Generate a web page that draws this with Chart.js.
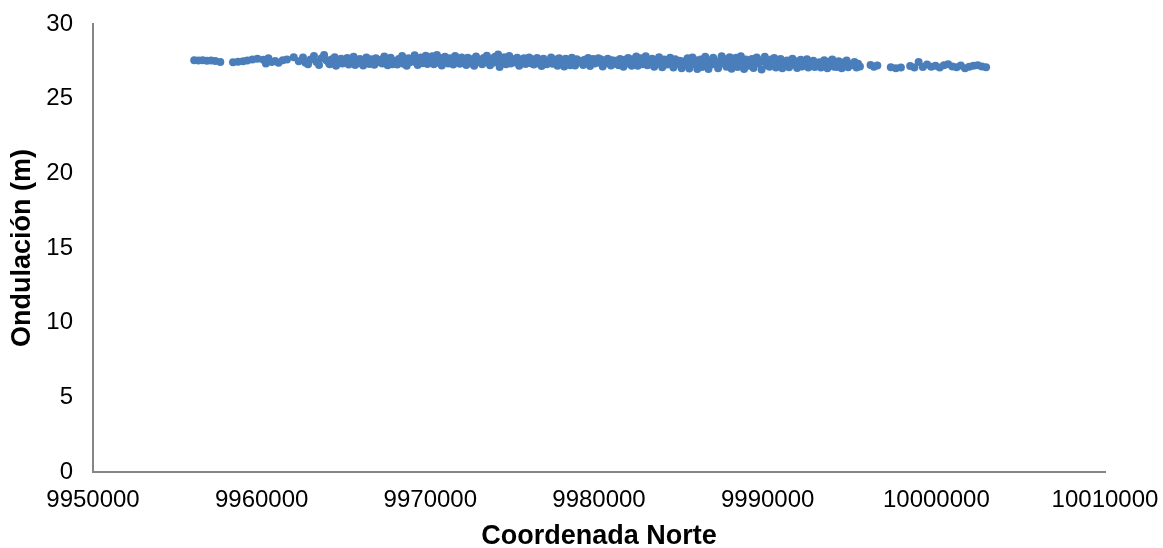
<!DOCTYPE html>
<html>
<head>
<meta charset="utf-8">
<script src="https://cdn.jsdelivr.net/npm/chart.js@4"></script>
<style>
  html, body { margin: 0; padding: 0; background: #fff; }
  #wrap { width: 1163px; height: 548px; }
</style>
</head>
<body>
<div id="wrap"><canvas id="ondulacionChart" width="1163" height="548"></canvas></div>
<script>
// tick values
const xTicks = [9950000, 9960000, 9970000, 9980000, 9990000, 10000000, 10010000];
const yTicks = [0, 5, 10, 15, 20, 25, 30];

// Coordenada Norte (m), read point by point along the band
const norte = [
  9956000, 9956250, 9956500, 9956750, 9957000, 9957250, 9957550,
  9958300, 9958600, 9958900, 9959150, 9959450, 9959750,
  9960100, 9960250, 9960400, 9960600, 9960800, 9961000, 9961250, 9961500,
  9961900, 9962200,
  9962450, 9962600, 9962750, 9962900, 9963100, 9963250, 9963400, 9963550, 9963700, 9963850, 9964000,
  9964040, 9964130, 9964220, 9964330, 9964410, 9964520, 9964600, 9964710, 9964790, 9964900,
  9965070, 9965160, 9965250, 9965350, 9965450, 9965540, 9965640, 9965730, 9965830, 9965940,
  9966020, 9966110, 9966210, 9966300, 9966390, 9966490, 9966580, 9966680, 9966770, 9966870,
  9967060, 9967150, 9967270, 9967360, 9967470, 9967560, 9967650, 9967750, 9967860, 9967960,
  9968040, 9968130, 9968220, 9968330, 9968410, 9968520, 9968600, 9968710, 9968790, 9968900,
  9969070, 9969160, 9969250, 9969350, 9969450, 9969540, 9969640, 9969730, 9969830, 9969940,
  9970020, 9970110, 9970210, 9970300, 9970390, 9970490, 9970580, 9970680, 9970770, 9970870,
  9971060, 9971150, 9971270, 9971360, 9971470, 9971560, 9971650, 9971750, 9971860, 9971960,
  9972040, 9972130, 9972220, 9972330, 9972410, 9972520, 9972600, 9972710, 9972790, 9972900,
  9973070, 9973160, 9973250, 9973350, 9973450, 9973540, 9973640, 9973730, 9973830, 9973940,
  9974020, 9974110, 9974210, 9974300, 9974390, 9974490, 9974580, 9974680, 9974770, 9974870,
  9975060, 9975150, 9975270, 9975360, 9975470, 9975560, 9975650, 9975750, 9975860, 9975960,
  9976040, 9976130, 9976220, 9976330, 9976410, 9976520, 9976600, 9976710, 9976790, 9976900,
  9977070, 9977160, 9977250, 9977350, 9977450, 9977540, 9977640, 9977730, 9977830, 9977940,
  9978020, 9978110, 9978210, 9978300, 9978390, 9978490, 9978580, 9978680, 9978770, 9978870,
  9979060, 9979150, 9979270, 9979360, 9979470, 9979560, 9979650, 9979750, 9979860, 9979960,
  9980040, 9980130, 9980220, 9980330, 9980410, 9980520, 9980600, 9980710, 9980790, 9980900,
  9981070, 9981160, 9981250, 9981350, 9981450, 9981540, 9981640, 9981730, 9981830, 9981940,
  9982020, 9982110, 9982210, 9982300, 9982390, 9982490, 9982580, 9982680, 9982770, 9982870,
  9983060, 9983150, 9983270, 9983360, 9983470, 9983560, 9983650, 9983750, 9983860, 9983960,
  9984040, 9984130, 9984220, 9984330, 9984410, 9984520, 9984600, 9984710, 9984790, 9984900,
  9985070, 9985160, 9985250, 9985350, 9985450, 9985540, 9985640, 9985730, 9985830, 9985940,
  9986020, 9986110, 9986210, 9986300, 9986390, 9986490, 9986580, 9986680, 9986770, 9986870,
  9987060, 9987150, 9987270, 9987360, 9987470, 9987560, 9987650, 9987750, 9987860, 9987960,
  9988040, 9988130, 9988220, 9988330, 9988410, 9988520, 9988600, 9988710, 9988790, 9988900,
  9989070, 9989160, 9989250, 9989350, 9989450, 9989540, 9989640, 9989730, 9989830, 9989940,
  9990020, 9990110, 9990210, 9990300, 9990390, 9990490, 9990580, 9990680, 9990770, 9990870,
  9991060, 9991150, 9991270, 9991360, 9991470, 9991560, 9991650, 9991750, 9991860, 9991960,
  9992040, 9992130, 9992220, 9992330, 9992410, 9992520, 9992600, 9992710, 9992790, 9992900,
  9993070, 9993160, 9993250, 9993350, 9993450, 9993540, 9993640, 9993730, 9993830, 9993940,
  9994020, 9994110, 9994210, 9994300, 9994390, 9994490, 9994580, 9994680, 9994770, 9994870,
  9995060, 9995150, 9995270, 9995360, 9995470,
  9996100, 9996300, 9996500,
  9997300, 9997600, 9997900,
  9998450, 9998700, 9998950, 9999200, 9999450, 9999700, 9999950,
  10000200, 10000450, 10000700, 10000950, 10001200, 10001450, 10001700, 10001950,
  10002200, 10002450, 10002700, 10002950
];

// Ondulación (m), same order as norte
const ondulacion = [
  27.58, 27.55, 27.57, 27.54, 27.56, 27.52, 27.45,
  27.44, 27.47, 27.50, 27.55, 27.62, 27.68,
  27.60, 27.35, 27.70, 27.45, 27.52, 27.40, 27.58, 27.62,
  27.78, 27.50,
  27.75, 27.40, 27.30, 27.62, 27.85, 27.45, 27.25, 27.70, 27.92, 27.55, 27.35,
  27.30, 27.62, 27.45, 27.78, 27.20, 27.52, 27.40, 27.68, 27.35, 27.55,
  27.72, 27.28, 27.50, 27.42, 27.80, 27.25, 27.60, 27.38, 27.66, 27.48,
  27.22, 27.58, 27.75, 27.40, 27.32, 27.64, 27.50, 27.27, 27.70, 27.44,
  27.60, 27.36, 27.82, 27.46, 27.24, 27.56, 27.74, 27.30, 27.52, 27.40,
  27.28, 27.66, 27.48, 27.85, 27.34, 27.58, 27.20, 27.70, 27.44, 27.62,
  27.90, 27.42, 27.26, 27.60, 27.76, 27.38, 27.54, 27.88, 27.32, 27.68,
  27.46, 27.84, 27.30, 27.62, 27.92, 27.40, 27.72, 27.22, 27.56, 27.80,
  27.36, 27.70, 27.52, 27.28, 27.86, 27.48, 27.64, 27.34, 27.76, 27.44,
  27.58, 27.26, 27.74, 27.50, 27.38, 27.66, 27.20, 27.82, 27.46, 27.60,
  27.30, 27.72, 27.44, 27.88, 27.56, 27.24, 27.68, 27.40, 27.80, 27.52,
  27.95, 27.12, 27.62, 27.45, 27.78, 27.30, 27.58, 27.85, 27.36, 27.66,
  27.42, 27.74, 27.20, 27.60, 27.48, 27.70, 27.32, 27.54, 27.76, 27.38,
  27.64, 27.28, 27.50, 27.72, 27.36, 27.58, 27.18, 27.68, 27.44, 27.30,
  27.52, 27.76, 27.34, 27.46, 27.62, 27.20, 27.70, 27.40, 27.56, 27.16,
  27.68, 27.38, 27.58, 27.24, 27.74, 27.48, 27.22, 27.64, 27.42, 27.54,
  27.26, 27.60, 27.44, 27.72, 27.18, 27.52, 27.66, 27.36, 27.48, 27.70,
  27.40, 27.62, 27.16, 27.54, 27.38, 27.68, 27.46, 27.22, 27.58, 27.34,
  27.56, 27.24, 27.66, 27.42, 27.14, 27.60, 27.36, 27.72, 27.48, 27.20,
  27.64, 27.40, 27.82, 27.20, 27.52, 27.70, 27.30, 27.46, 27.84, 27.24,
  27.44, 27.68, 27.14, 27.58, 27.36, 27.78, 27.50, 27.10, 27.62, 27.40,
  27.28, 27.56, 27.74, 27.38, 27.08, 27.64, 27.46, 27.32, 27.54, 27.04,
  27.50, 27.26, 27.70, 27.02, 27.44, 27.76, 27.30, 27.58, 26.98, 27.40,
  27.62, 27.12, 27.48, 27.80, 27.34, 26.98, 27.56, 27.28, 27.74, 27.42,
  27.04, 27.52, 27.84, 27.36, 27.64, 27.14, 27.46, 27.78, 27.00, 27.58,
  27.40, 27.74, 27.12, 27.54, 27.84, 27.32, 26.98, 27.62, 27.44, 27.20,
  27.66, 27.06, 27.48, 27.76, 27.36, 27.58, 26.96, 27.50, 27.80, 27.24,
  27.44, 27.14, 27.62, 27.38, 27.72, 27.08, 27.54, 27.34, 27.66, 27.04,
  27.32, 27.56, 27.10, 27.46, 27.68, 27.28, 27.50, 27.06, 27.40, 27.60,
  27.16, 27.48, 27.36, 27.64, 27.08, 27.42, 27.30, 27.54, 27.12, 27.38,
  27.44, 27.08, 27.34, 27.58, 27.22, 27.04, 27.48, 27.30, 27.62, 27.14,
  27.36, 27.12, 27.50, 27.28, 27.04, 27.42, 27.20, 27.56, 27.10, 27.32,
  27.26, 27.46, 27.08, 27.34, 27.16,
  27.26, 27.14, 27.22,
  27.10, 27.04, 27.08,
  27.18, 27.08, 27.46, 27.12, 27.28, 27.14, 27.20,
  27.08, 27.24, 27.30, 27.16, 27.10, 27.22, 27.04, 27.14,
  27.20, 27.24, 27.16, 27.10
];

const points = norte.map((n, i) => ({ x: n, y: ondulacion[i] }));

const axisColor = '#868686';
const tickFont = { family: '"Liberation Sans", Arial, sans-serif', size: 24 };
const titleFont = { family: '"Liberation Sans", Arial, sans-serif', size: 27, weight: 'bold' };

new Chart(document.getElementById('ondulacionChart'), {
  type: 'scatter',
  data: {
    datasets: [{
      label: 'Ondulación',
      data: points,
      backgroundColor: '#4A7EBB',
      borderColor: '#4A7EBB',
      borderWidth: 0,
      pointRadius: 4,
      pointHoverRadius: 4
    }]
  },
  options: {
    responsive: false,
    animation: false,
    layout: { padding: { top: 24, right: 58, bottom: 0, left: 0 } },
    plugins: {
      legend: { display: false },
      tooltip: { enabled: false }
    },
    scales: {
      x: {
        type: 'linear',
        min: xTicks[0],
        max: xTicks[xTicks.length - 1],
        afterBuildTicks: scale => { scale.ticks = xTicks.map(v => ({ value: v })); },
        // fixed box so the plot area lands where the original has it
        afterFit: scale => {
          scale.height = 76;
          scale.paddingLeft = 0;
          scale.paddingRight = 0;
        },
        grid: { display: false, drawTicks: false },
        border: { display: true, color: axisColor, width: 2 },
        ticks: { color: '#000', font: tickFont, padding: 14, maxRotation: 0, callback: v => String(v) },
        title: { display: true, text: 'Coordenada Norte', color: '#000', font: titleFont, padding: { top: 0, bottom: -5 } }
      },
      y: {
        min: yTicks[0],
        max: yTicks[yTicks.length - 1],
        afterBuildTicks: scale => { scale.ticks = yTicks.map(v => ({ value: v })); },
        afterFit: scale => {
          scale.width = 93;
          scale.paddingTop = 0;
          scale.paddingBottom = 0;
        },
        grid: { display: false, drawTicks: false },
        border: { display: true, color: axisColor, width: 2 },
        ticks: { color: '#000', font: tickFont, padding: 20, callback: v => String(v) },
        title: { display: true, text: 'Ondulación (m)', color: '#000', font: titleFont, padding: { top: 6, bottom: 0 } }
      }
    }
  }
});
</script>
</body>
</html>
